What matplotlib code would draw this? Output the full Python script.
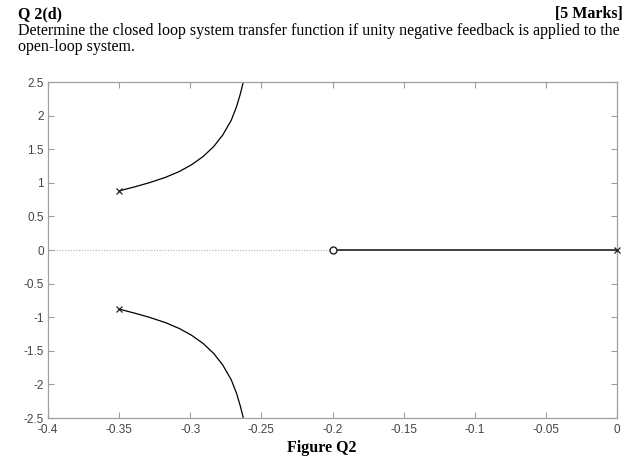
import matplotlib
matplotlib.use("Agg")
import matplotlib.pyplot as plt

# Data
poles_re = [-0.35, -0.35, 0.0]
poles_im = [0.88, -0.88, 0.0]
zeros_re = [-0.2]
zeros_im = [0.0]

# upper branch (from complex pole toward the vertical asymptote)
branch_re = [-0.350, -0.3390, -0.3290, -0.3175, -0.3075, -0.2990, -0.2910,
             -0.2835, -0.2772, -0.2712, -0.2675, -0.2647, -0.2627]
branch_im = [0.88, 0.94, 1.00, 1.08, 1.17, 1.27, 1.39,
             1.54, 1.71, 1.93, 2.13, 2.33, 2.50]
# real-axis branch from pole at 0 to zero at -0.2
real_branch_re = [0.0, -0.2]
real_branch_im = [0.0, 0.0]

xticks = [-0.4, -0.35, -0.3, -0.25, -0.2, -0.15, -0.1, -0.05, 0]
xticklabels = ["-0.4", "-0.35", "-0.3", "-0.25", "-0.2", "-0.15", "-0.1", "-0.05", "0"]
yticks = [-2.5, -2, -1.5, -1, -0.5, 0, 0.5, 1, 1.5, 2, 2.5]
yticklabels = ["-2.5", "-2", "-1.5", "-1", "-0.5", "0", "0.5", "1", "1.5", "2", "2.5"]

fig = plt.figure(figsize=(6.41, 4.65), dpi=100)
fig.patch.set_facecolor("white")

serif = "Liberation Serif"
fig.text(18/641, 1-18/465, "Q 2(d)", family=serif, weight="bold", fontsize=11.5, va="baseline", ha="left")
fig.text(623/641, 1-18/465, "[5 Marks]", family=serif, weight="bold", fontsize=11.5, va="baseline", ha="right")
fig.text(18/641, 1-35/465, "Determine the closed loop system transfer function if unity negative feedback is applied to the",
         family=serif, fontsize=11.5, va="baseline", ha="left")
fig.text(18/641, 1-51/465, "open-loop system.", family=serif, fontsize=11.5, va="baseline", ha="left")
fig.text(322/641, 1-452/465, "Figure Q2", family=serif, weight="bold", fontsize=11.5, va="baseline", ha="center")

ax = fig.add_axes([48/641, 1-418/465, (617-48)/641, (418-82)/465])
ax.set_xlim(-0.4, 0)
ax.set_ylim(-2.5, 2.5)

ax.plot([-0.4, 0], [0, 0], linestyle=(0, (1, 1.5)), color="#b0b0b0", lw=0.8, zorder=1)
ax.plot(branch_re, branch_im, color="black", lw=0.9, zorder=2, solid_joinstyle="round")
ax.plot(branch_re, [-v for v in branch_im], color="black", lw=0.9, zorder=2, solid_joinstyle="round")
ax.plot(real_branch_re, real_branch_im, color="#333333", lw=1.3, zorder=2)
ax.plot(poles_re, poles_im, linestyle="none", marker="x", color="#222222", ms=4, mew=0.9, zorder=3, clip_on=False)
ax.plot(zeros_re, zeros_im, linestyle="none", marker="o", mfc="white", mec="#222222", ms=5, mew=1.0, zorder=3)

ax.set_xticks(xticks)
ax.set_xticklabels(xticklabels)
ax.set_yticks(yticks)
ax.set_yticklabels(yticklabels)
for s in ax.spines.values():
    s.set_color("#a0a0a0")
    s.set_linewidth(0.9)
ax.tick_params(direction="in", length=4, width=0.8, color="#a0a0a0", top=True, right=True,
               labelsize=8.5, labelcolor="#444444")
ax.tick_params(axis="x", pad=4.5)
ax.tick_params(axis="y", pad=3)
for lab in ax.get_xticklabels() + ax.get_yticklabels():
    lab.set_family("Liberation Sans")

fig.savefig("out.png", dpi=100, facecolor="white")
